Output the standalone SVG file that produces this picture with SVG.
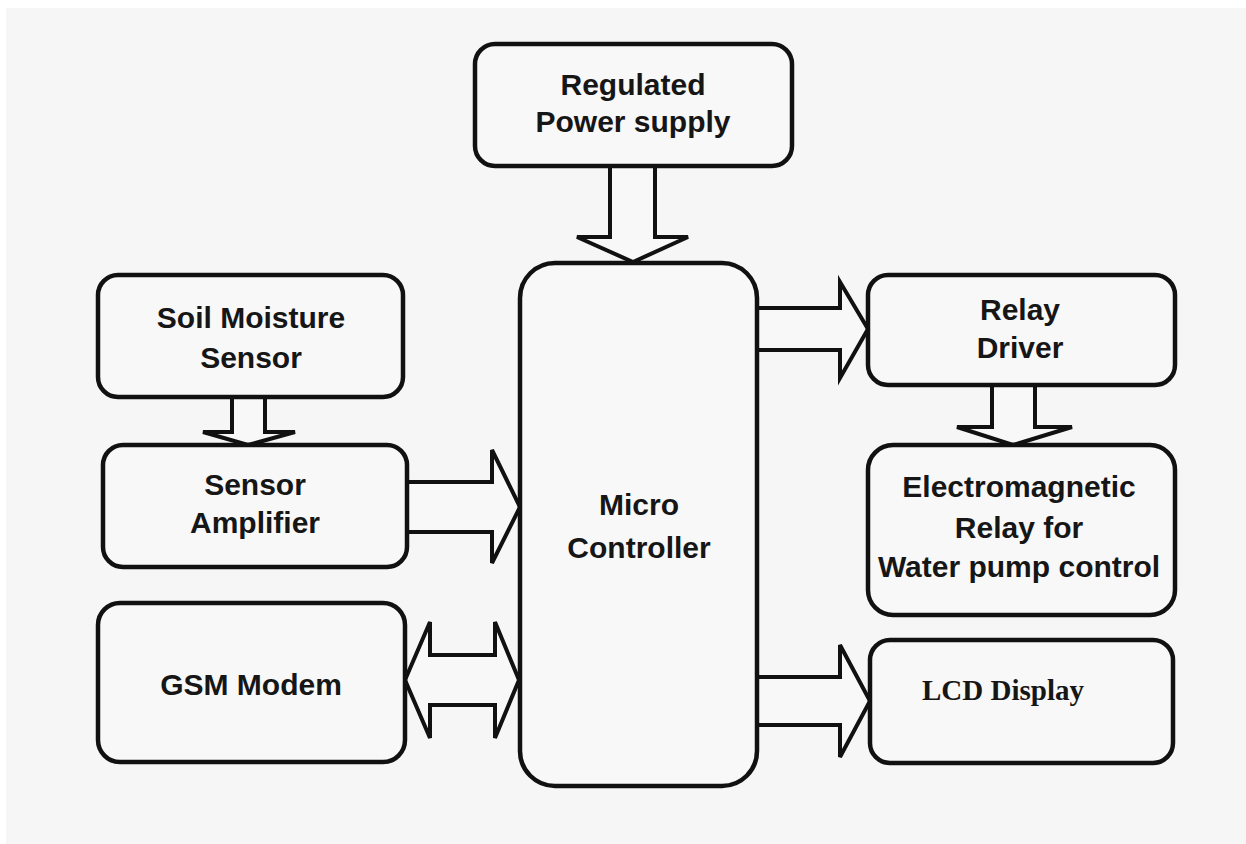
<svg xmlns="http://www.w3.org/2000/svg" width="1246" height="844" viewBox="0 0 1246 844">
<style>
.box{fill:#f8f8f8;stroke:#111;stroke-width:4.5}
.arr{fill:#f8f8f8;stroke:#111;stroke-width:4;stroke-linejoin:miter}
.t{font-family:"Liberation Sans",Arial,sans-serif;font-weight:bold;font-size:30px;fill:#161616;text-anchor:middle}
.s{font-family:"Liberation Serif","Times New Roman",serif;font-weight:bold;font-size:29px;fill:#161616}
</style>
<rect x="0" y="0" width="1246" height="844" fill="#ffffff"/>
<rect x="6" y="8" width="1240" height="836" fill="#f6f6f6"/>
<g id="connectors">
<path class="arr" d="M610,166 V237 H577 L633,262 L688,237 H655 V166"/>
<path class="arr" d="M232,397 V432 H203 L248,445 L295,432 H265 V397"/>
<path class="arr" d="M407,482 H492 V450 L520,507 L492,563 V532 H407"/>
<path class="arr" d="M405,680 L430,622 V655 H495 V622 L519,680 L495,738 V705 H430 V738 Z"/>
<path class="arr" d="M757,308 H840 V282 L868,329 L840,378 V350 H757"/>
<path class="arr" d="M992,385 V427 H957 L1013,445 L1072,427 H1035 V385"/>
<path class="arr" d="M757,677 H840 V645 L870,701 L840,757 V725 H757"/>
</g>
<g id="power">
<rect class="box" x="475" y="44" width="317" height="122" rx="20"/>
<text class="t" x="633" y="95">Regulated</text>
<text class="t" x="633" y="132">Power supply</text>
</g>
<g id="soil">
<rect class="box" x="98" y="275" width="305" height="122" rx="20"/>
<text class="t" x="251" y="328">Soil Moisture</text>
<text class="t" x="251" y="368">Sensor</text>
</g>
<g id="amp">
<rect class="box" x="103" y="445" width="304" height="122" rx="20"/>
<text class="t" x="255" y="495">Sensor</text>
<text class="t" x="255" y="533">Amplifier</text>
</g>
<g id="gsm">
<rect class="box" x="98" y="603" width="307" height="159" rx="22"/>
<text class="t" x="251" y="695">GSM Modem</text>
</g>
<g id="mcu">
<rect class="box" x="520" y="263" width="237" height="523" rx="35"/>
<text class="t" x="639" y="515">Micro</text>
<text class="t" x="639" y="558">Controller</text>
</g>
<g id="relaydriver">
<rect class="box" x="868" y="275" width="307" height="110" rx="20"/>
<text class="t" x="1020" y="320">Relay</text>
<text class="t" x="1020" y="358">Driver</text>
</g>
<g id="emrelay">
<rect class="box" x="868" y="445" width="307" height="170" rx="25"/>
<text class="t" x="1019" y="497">Electromagnetic</text>
<text class="t" x="1019" y="538">Relay for</text>
<text class="t" x="1019" y="577">Water pump control</text>
</g>
<g id="lcd">
<rect class="box" x="870" y="640" width="303" height="123" rx="20"/>
<text class="s" x="922" y="700">LCD Display</text>
</g>
</svg>
